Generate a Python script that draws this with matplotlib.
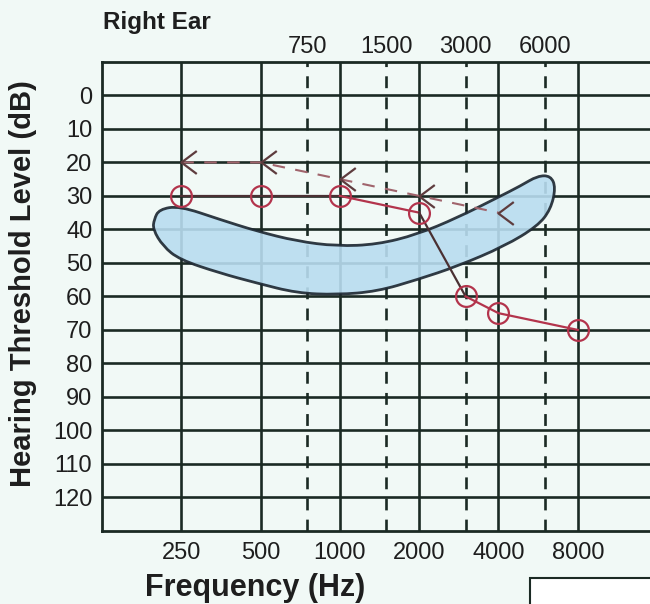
"""Right-ear audiogram with speech banana, redrawn from a photographed chart."""
import matplotlib

matplotlib.use("Agg")
import matplotlib.pyplot as plt
from matplotlib.patches import PathPatch, Rectangle
from matplotlib.path import Path

plt.rcParams["font.family"] = ["Liberation Sans", "DejaVu Sans"]

# octave frequencies (solid lines, bottom labels) and half-octaves (dashed, top labels)
OCTAVE_FREQS = [250, 500, 1000, 2000, 4000, 8000]
HALF_FREQS = [750, 1500, 3000, 6000]
DB_TICKS = [0, 10, 20, 30, 40, 50, 60, 70, 80, 90, 100, 110, 120]

# air conduction thresholds (circles)
air_freqs = [250, 500, 1000, 2000, 3000, 4000, 8000]
air_db = [30, 30, 30, 35, 60, 65, 70]

# bone conduction thresholds ("<")
bone_freqs = [250, 500, 1000, 2000, 4000]
bone_db = [20, 20, 25, 30, 35]

# speech banana outline (Hz, dB HL), used as curve control points
banana_freqs = [197, 206, 246, 349, 483, 686, 974, 1384, 1966, 2792, 3966, 4850,
                5633, 6313, 6597, 6313, 5633, 4217, 2792, 1966, 1384, 974, 686,
                483, 349, 246, 213, 195]
banana_db = [37, 34, 33, 37, 40.5, 43.5, 45, 44.5, 41.5, 36.5, 30.5, 27, 24,
             24, 27.5, 34, 39, 45, 51, 55, 58.5, 59.5, 59, 56, 53, 49, 45, 40]

GRID = "#1b2a24"
PAPER = "#f1f9f6"
INK = "#1e1e1e"
PEN_RED = "#b3344c"
PEN_DARK = "#4a3033"
BONE = "#5e3c3e"


def smooth_closed_path(xs, ys):
    """Closed quadratic-bezier outline through the midpoints of the control points."""
    pts = list(zip(xs, ys))
    n = len(pts)

    def mid(a, b):
        return ((a[0] * b[0]) ** 0.5, (a[1] + b[1]) / 2)  # geometric mid in x (log axis)

    verts = [mid(pts[-1], pts[0])]
    codes = [Path.MOVETO]
    for i in range(n):
        verts += [pts[i], mid(pts[i], pts[(i + 1) % n])]
        codes += [Path.CURVE3, Path.CURVE3]
    verts.append(verts[0])
    codes.append(Path.CLOSEPOLY)
    return Path(verts, codes)


fig = plt.figure(figsize=(6.5, 6.04), dpi=100, facecolor=PAPER)
ax = fig.add_axes([0.157, 0.121, 0.843, 0.7765])
ax.set_facecolor(PAPER)
ax.set_xscale("log", base=2)
ax.set_xlim(125, 15040)
ax.set_ylim(130, -10)

for db in DB_TICKS:
    ax.axhline(db, color=GRID, lw=1.9, zorder=1)
for f in OCTAVE_FREQS:
    ax.axvline(f, color=GRID, lw=1.9, zorder=1)
for f in HALF_FREQS:
    ax.axvline(f, color=GRID, lw=1.9, dashes=(4.5, 3.5), zorder=1)

for side in ["left", "top", "bottom"]:
    ax.spines[side].set_color(GRID)
    ax.spines[side].set_linewidth(2.0)
ax.spines["right"].set_visible(False)

ax.set_yticks(DB_TICKS)
ax.set_yticklabels([str(d) for d in DB_TICKS])
ax.set_xticks(OCTAVE_FREQS)
ax.set_xticklabels([str(f) for f in OCTAVE_FREQS])
ax.minorticks_off()
ax.tick_params(length=0, labelsize=17, colors=INK)
ax.tick_params(axis="y", pad=7)
ax.tick_params(axis="x", pad=8)

top = ax.secondary_xaxis("top")
top.set_xticks(HALF_FREQS)
top.set_xticklabels([str(f) for f in HALF_FREQS])
top.minorticks_off()
top.tick_params(length=0, labelsize=17, colors=INK, pad=3)
top.spines["top"].set_visible(False)

banana = PathPatch(smooth_closed_path(banana_freqs, banana_db),
                   facecolor="#b9ddf0", edgecolor="#1c2630", lw=2, alpha=0.9, zorder=2)
ax.add_patch(banana)

# air conduction: pen colour changes along the trace
ax.plot(air_freqs[0:3], air_db[0:3], color=PEN_DARK, lw=1.6, zorder=3)
ax.plot(air_freqs[2:4], air_db[2:4], color=PEN_RED, lw=1.6, zorder=3)
ax.plot(air_freqs[3:5], air_db[3:5], color=PEN_DARK, lw=1.6, zorder=3)
ax.plot(air_freqs[4:], air_db[4:], color=PEN_RED, lw=1.6, zorder=3)
ax.plot(air_freqs, air_db, ls="none", marker="o", ms=15, mfc="none",
        mec=PEN_RED, mew=1.6, zorder=4)

chevron = Path([(1.0, 0.75), (0.0, 0.0), (1.0, -0.75)],
               [Path.MOVETO, Path.LINETO, Path.LINETO])
ax.plot(bone_freqs, bone_db, color="#a0646c", lw=1.5, dashes=(6, 5), zorder=3)
ax.plot(bone_freqs, bone_db, ls="none", marker=chevron, ms=22, mfc="none",
        mec=BONE, mew=1.6, zorder=4)

fig.text(0.158, 0.962, "Right Ear", fontsize=17.5, fontweight="bold",
         color=INK, va="center", ha="left")
fig.text(0.035, 0.53, "Hearing Threshold Level (dB)", fontsize=21,
         fontweight="bold", color=INK, rotation=90, va="center", ha="center")
fig.text(0.393, 0.027, "Frequency (Hz)", fontsize=22, fontweight="bold",
         color=INK, va="center", ha="center")

fig.add_artist(Rectangle((0.815, -0.01), 0.2, 0.053, transform=fig.transFigure,
                         facecolor="white", edgecolor=GRID, lw=1.5))

fig.savefig("out.png", dpi=100, facecolor=PAPER)
